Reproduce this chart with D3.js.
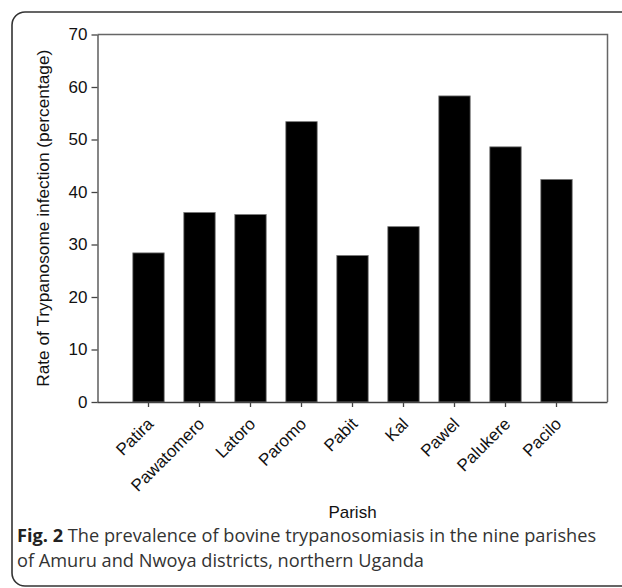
<!DOCTYPE html>
<html>
<head>
<meta charset="utf-8">
<script src="https://cdn.jsdelivr.net/npm/d3@7"></script>
<style>
    body { margin: 0; background: #fff; }
    svg { display: block; }
</style>
</head>
<body>
<div id="chart"></div>
<script>
var parishes = ['Patira', 'Pawatomero', 'Latoro', 'Paromo', 'Pabit', 'Kal', 'Pawel', 'Palukere', 'Pacilo'];
var infectionRate = [28.4, 36.1, 35.7, 53.4, 27.9, 33.4, 58.3, 48.6, 42.4];
var yTicks = [0, 10, 20, 30, 40, 50, 60, 70];

var width = 622,
    height = 588;
var plot = { left: 97.5, right: 607.5, top: 34.5, bottom: 402 };
var step = (plot.right - plot.left) / 10;

var svg = d3.select('#chart').append('svg')
    .attr('width', width)
    .attr('height', height);

// outer figure box (right side runs off the page)
svg.append('rect')
    .attr('x', 12)
    .attr('y', 12)
    .attr('width', 640)
    .attr('height', 574)
    .attr('rx', 13)
    .style('fill', 'none')
    .style('stroke', '#333')
    .style('stroke-width', 1.6);

var x = d3.scaleBand()
    .domain(parishes)
    .range([plot.left + step / 2, plot.right - step / 2])
    .paddingInner(0.385)
    .paddingOuter(0.1925);

var y = d3.scaleLinear()
    .domain([0, 70])
    .range([plot.bottom, plot.top]);

// top and right frame lines
svg.append('path')
    .attr('d', 'M' + plot.left + ',' + plot.top + 'H' + plot.right + 'V' + plot.bottom)
    .style('fill', 'none')
    .style('stroke', '#666')
    .style('stroke-width', 1.5);

svg.selectAll('rect.bar')
    .data(infectionRate)
    .enter().append('rect')
    .attr('class', 'bar')
    .attr('x', function(d, i) { return x(parishes[i]); })
    .attr('width', x.bandwidth())
    .attr('y', function(d) { return y(d); })
    .attr('height', function(d) { return y(0) - y(d); })
    .style('fill', '#000')
    .style('stroke', '#777')
    .style('stroke-width', 0.8);

var font = '"Liberation Sans", Arial, sans-serif';

var yAxis = svg.append('g')
    .attr('transform', 'translate(' + plot.left + ',0)')
    .call(d3.axisLeft(y).tickValues(yTicks).tickSize(6).tickPadding(4).tickSizeOuter(0));
yAxis.selectAll('text')
    .style('font-family', font)
    .style('font-size', '17px')
    .style('fill', '#111');

var xAxis = svg.append('g')
    .attr('transform', 'translate(0,' + plot.bottom + ')')
    .call(d3.axisBottom(x).tickSize(5).tickSizeOuter(0));
xAxis.select('.domain').attr('d', 'M' + plot.left + ',0.5H' + plot.right);
xAxis.selectAll('text')
    .attr('text-anchor', 'end')
    .attr('dy', 0)
    .attr('y', 0)
    .attr('transform', 'translate(6,23) rotate(-45)')
    .style('font-family', font)
    .style('font-size', '17px')
    .style('fill', '#111');

svg.selectAll('.domain, .tick line')
    .style('stroke', '#444')
    .style('stroke-width', 1.3);

svg.append('text')
    .attr('transform', 'translate(49,' + (plot.top + plot.bottom) / 2 + ') rotate(-90)')
    .attr('text-anchor', 'middle')
    .style('font-family', font)
    .style('font-size', '17.3px')
    .style('fill', '#111')
    .text('Rate of Trypanosome infection (percentage)');

svg.append('text')
    .attr('x', (plot.left + plot.right) / 2)
    .attr('y', 518)
    .attr('text-anchor', 'middle')
    .style('font-family', font)
    .style('font-size', '17px')
    .style('fill', '#111')
    .text('Parish');

// figure caption
var caption = svg.append('text')
    .attr('x', 17)
    .attr('y', 542)
    .style('font-family', '"Open Sans", sans-serif')
    .style('font-size', '18.2px')
    .style('fill', '#333');
caption.append('tspan')
    .style('font-weight', 'bold')
    .style('fill', '#222')
    .text('Fig. 2');
caption.append('tspan')
    .text(' The prevalence of bovine trypanosomiasis in the nine parishes');
svg.append('text')
    .attr('x', 17)
    .attr('y', 567)
    .style('font-family', '"Open Sans", sans-serif')
    .style('font-size', '18.2px')
    .style('fill', '#333')
    .text('of Amuru and Nwoya districts, northern Uganda');
</script>
</body>
</html>
